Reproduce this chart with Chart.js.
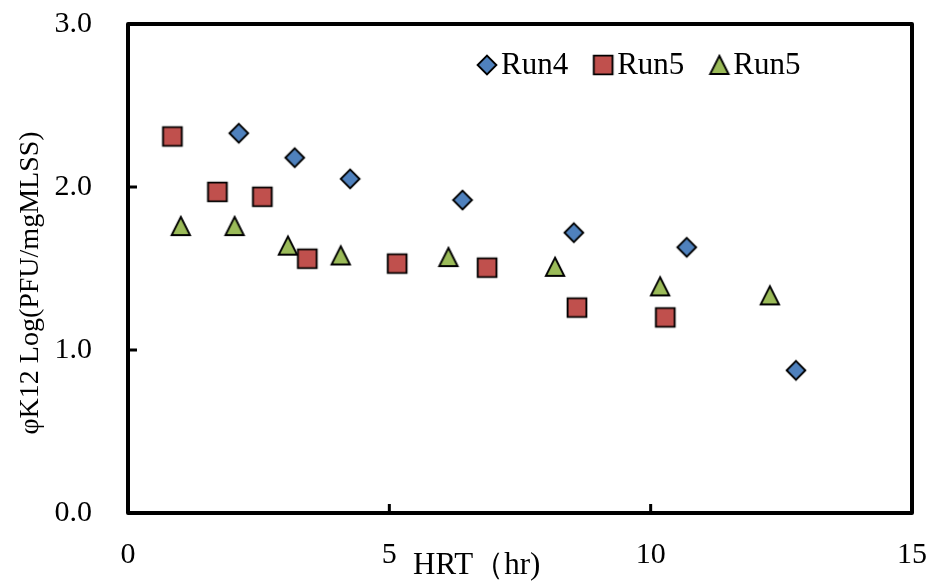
<!DOCTYPE html>
<html>
<head>
<meta charset="utf-8">
<script src="https://cdn.jsdelivr.net/npm/chart.js@4"></script>
<style>
  html, body { margin: 0; padding: 0; background: #fff; }
  #wrap { width: 932px; height: 585px; }
</style>
</head>
<body>
<div id="wrap"><canvas id="hrtChart" width="932" height="585"></canvas></div>
<script>
// HRT (hr) and phage count for each run
const run4Hrt = [2.12, 3.19, 4.25, 6.40, 8.53, 10.69, 12.78];
const run4Log = [2.33, 2.18, 2.05, 1.92, 1.72, 1.63, 0.875];

const run5aHrt = [0.85, 1.71, 2.57, 3.43, 5.15, 6.87, 8.59, 10.28];
const run5aLog = [2.31, 1.97, 1.94, 1.56, 1.53, 1.505, 1.26, 1.20];

const run5bHrt = [1.01, 2.04, 3.06, 4.07, 6.13, 8.17, 10.18, 12.28];
const run5bLog = [1.76, 1.76, 1.64, 1.58, 1.57, 1.51, 1.39, 1.335];

const seriesNames = ['Run4', 'Run5', 'Run5'];
const seriesColors = ['#4F81BD', '#C0504D', '#9BBB59'];

const xTicks = [0, 5, 10, 15];
const yTicks = [0, 1, 2, 3];

const xTitle = 'HRT（hr)';
const yTitle = 'φK12 Log(PFU/mgMLSS)';

const SERIF = '"Liberation Serif", "Times New Roman", serif';

// marker bitmaps, outlined in black like office charts
function makeMarker(shape, fill) {
  const c = document.createElement('canvas');
  c.width = 24; c.height = 24;
  const g = c.getContext('2d');
  g.beginPath();
  if (shape === 'diamond') {
    g.moveTo(12, 2.6); g.lineTo(21.4, 12); g.lineTo(12, 21.4); g.lineTo(2.6, 12);
  } else if (shape === 'square') {
    g.rect(2.6, 2.6, 18.8, 18.8);
  } else {
    g.moveTo(12, 2.8); g.lineTo(21.2, 21); g.lineTo(2.8, 21);
  }
  g.closePath();
  g.fillStyle = fill;
  g.fill();
  g.lineWidth = 1.9;
  g.strokeStyle = '#000';
  g.stroke();
  return c;
}

const markers = [
  makeMarker('diamond', seriesColors[0]),
  makeMarker('square', seriesColors[1]),
  makeMarker('triangle', seriesColors[2])
];

function toPoints(xs, ys) {
  return xs.map((v, i) => ({ x: v, y: ys[i] }));
}

// frame, inner tick marks, axis titles and legend
const decor = {
  id: 'decor',
  beforeDatasetsDraw(chart) {
    const { ctx, chartArea: a, scales } = chart;
    ctx.save();
    ctx.strokeStyle = '#000';
    ctx.lineWidth = 3;
    ctx.beginPath();
    xTicks.slice(1, -1).forEach(v => {
      const px = scales.x.getPixelForValue(v);
      ctx.moveTo(px, a.bottom); ctx.lineTo(px, a.bottom - 9);
    });
    yTicks.slice(1, -1).forEach(v => {
      const py = scales.y.getPixelForValue(v);
      ctx.moveTo(a.left, py); ctx.lineTo(a.left + 9, py);
    });
    ctx.stroke();
    ctx.lineWidth = 4;
    ctx.lineJoin = 'round';
    ctx.strokeRect(a.left, a.top, a.right - a.left, a.bottom - a.top);
    ctx.restore();
  },
  afterDraw(chart) {
    const { ctx } = chart;
    ctx.save();
    ctx.fillStyle = '#000';

    // x title
    ctx.font = '31px ' + SERIF;
    ctx.textAlign = 'left';
    ctx.textBaseline = 'alphabetic';
    ctx.fillText(xTitle, 413, 574);

    // y title
    ctx.save();
    ctx.translate(31, 283);
    ctx.rotate(-Math.PI / 2);
    ctx.font = '28px ' + SERIF;
    ctx.textAlign = 'center';
    ctx.textBaseline = 'middle';
    ctx.fillText(yTitle, 0, 0);
    ctx.restore();

    // legend
    ctx.font = '31px ' + SERIF;
    ctx.textAlign = 'left';
    let cx = 487;
    chart.data.datasets.forEach(ds => {
      const img = ds.pointStyle;
      ctx.drawImage(img, cx - img.width / 2, 65 - img.height / 2);
      const tx = cx + 14;
      ctx.fillText(ds.label, tx, 74);
      cx = tx + ctx.measureText(ds.label).width + 35;
    });
    ctx.restore();
  }
};

new Chart(document.getElementById('hrtChart'), {
  type: 'scatter',
  data: {
    datasets: [
      { label: seriesNames[0], data: toPoints(run4Hrt, run4Log), pointStyle: markers[0], pointRadius: 10, backgroundColor: seriesColors[0] },
      { label: seriesNames[1], data: toPoints(run5aHrt, run5aLog), pointStyle: markers[1], pointRadius: 10, backgroundColor: seriesColors[1] },
      { label: seriesNames[2], data: toPoints(run5bHrt, run5bLog), pointStyle: markers[2], pointRadius: 10, backgroundColor: seriesColors[2] }
    ]
  },
  options: {
    responsive: false,
    animation: false,
    layout: { padding: { top: 24, right: 20, left: 0, bottom: 0 } },
    plugins: { legend: { display: false }, tooltip: { enabled: false } },
    scales: {
      x: {
        type: 'linear',
        min: 0, max: 15,
        afterBuildTicks: s => { s.ticks = xTicks.map(v => ({ value: v })); },
        afterFit: s => { s.height = 72; s.paddingLeft = 0; s.paddingRight = 0; },
        grid: { display: false, drawTicks: false },
        border: { display: false },
        ticks: { color: '#000', font: { family: SERIF, size: 30 }, padding: 24, maxRotation: 0 }
      },
      y: {
        type: 'linear',
        min: 0, max: 3,
        afterBuildTicks: s => { s.ticks = yTicks.map(v => ({ value: v })); },
        afterFit: s => { s.width = 128; s.paddingTop = 0; s.paddingBottom = 0; },
        grid: { display: false, drawTicks: false },
        border: { display: false },
        ticks: { color: '#000', font: { family: SERIF, size: 30 }, padding: 36, callback: v => v.toFixed(1) }
      }
    }
  },
  plugins: [decor]
});
</script>
</body>
</html>
